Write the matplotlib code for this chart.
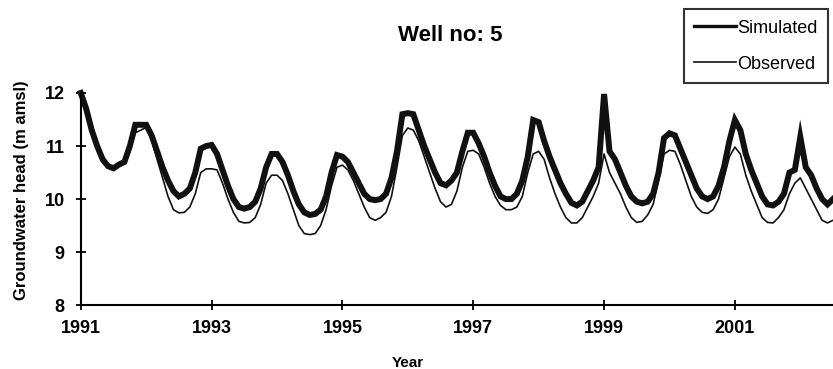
import numpy as np
import matplotlib.pyplot as plt

plt.rcParams['font.family'] = ['Liberation Sans', 'DejaVu Sans']
plt.rcParams['font.weight'] = 'bold'

# monthly values, Jan 1991 .. Jul 2002
simulated = [
    12.0, 11.7, 11.3, 11.0, 10.75, 10.62, 10.58, 10.65, 10.7, 11.0, 11.4, 11.4,
    11.4, 11.2, 10.9, 10.6, 10.35, 10.15, 10.05, 10.1, 10.2, 10.5, 10.95, 11.0,
    11.02, 10.85, 10.55, 10.25, 10.0, 9.85, 9.82, 9.85, 9.95, 10.2, 10.6, 10.85,
    10.85, 10.7, 10.45, 10.15, 9.9, 9.75, 9.7, 9.72, 9.8, 10.05, 10.5, 10.83,
    10.8, 10.7, 10.5, 10.3, 10.1, 10.0, 9.98, 10.0, 10.1, 10.4, 10.9, 11.6,
    11.62, 11.6, 11.3, 11.0, 10.75, 10.5, 10.3, 10.26, 10.35, 10.5, 10.9, 11.25,
    11.25, 11.05, 10.8, 10.5, 10.25, 10.05, 10.0, 10.0, 10.1, 10.35, 10.8, 11.49,
    11.45, 11.1, 10.8, 10.55, 10.3, 10.1, 9.93, 9.88, 9.95, 10.15, 10.35, 10.6,
    11.98, 10.9, 10.75, 10.5, 10.25, 10.05, 9.95, 9.92, 9.95, 10.1, 10.5, 11.15,
    11.24, 11.2, 10.95, 10.7, 10.45, 10.2, 10.05, 10.0, 10.05, 10.25, 10.6, 11.1,
    11.49, 11.3, 10.85, 10.55, 10.3, 10.05, 9.9, 9.88, 9.95, 10.1, 10.5, 10.55,
    11.17, 10.6, 10.45, 10.2, 10.0, 9.9, 10.0,
]
observed = [
    12.0, 11.65, 11.25, 10.95, 10.7, 10.6, 10.58, 10.62, 10.7, 10.95, 11.25, 11.3,
    11.35, 11.1, 10.75, 10.4, 10.05, 9.8, 9.74, 9.75, 9.85, 10.1, 10.5, 10.57,
    10.57, 10.55, 10.3, 10.0, 9.75, 9.58, 9.55, 9.56, 9.65, 9.9, 10.3, 10.45,
    10.45, 10.35, 10.1, 9.8, 9.5, 9.35, 9.33, 9.35, 9.5, 9.8, 10.25, 10.6,
    10.64, 10.55, 10.35, 10.1, 9.85, 9.65, 9.6, 9.65, 9.75, 10.05, 10.6, 11.2,
    11.34, 11.3, 11.1, 10.8, 10.5, 10.2, 9.95, 9.85, 9.9, 10.15, 10.6, 10.9,
    10.92, 10.85, 10.6, 10.3, 10.05, 9.88, 9.8, 9.8, 9.85, 10.05, 10.5, 10.85,
    10.9, 10.75, 10.4, 10.1, 9.85, 9.65, 9.55, 9.55, 9.65, 9.85, 10.05, 10.3,
    10.85, 10.5, 10.3, 10.1, 9.85, 9.65, 9.56, 9.58, 9.7, 9.9, 10.35, 10.85,
    10.92, 10.9, 10.65, 10.35, 10.05, 9.85, 9.75, 9.73, 9.8, 10.0, 10.4, 10.8,
    10.98, 10.85, 10.45, 10.15, 9.9, 9.65, 9.56, 9.55, 9.65, 9.8, 10.1, 10.3,
    10.4, 10.2, 10.0, 9.8, 9.6, 9.55, 9.6,
]
year_ticks = [1991, 1993, 1995, 1997, 1999, 2001]

t = 1991 + np.arange(len(simulated)) / 12.0

fig = plt.figure(figsize=(8.33, 3.69), dpi=100)
ax = fig.add_axes([0.097, 0.173, 0.903, 0.575])

ax.plot(t, simulated, color='#111111', lw=4.3, label='Simulated',
        solid_joinstyle='miter', clip_on=False)
ax.plot(t, observed, color='#111111', lw=1.2, label='Observed', clip_on=False)

ax.set_xlim(1991, 2002.5)
ax.set_ylim(8, 12)
ax.set_xticks(year_ticks)
ax.set_yticks([8, 9, 10, 11, 12])
for s in ['top', 'right']:
    ax.spines[s].set_visible(False)
for s in ['left', 'bottom']:
    ax.spines[s].set_linewidth(1.5)
ax.tick_params(direction='inout', length=7, width=1.3, labelsize=13)
ax.tick_params(axis='y', pad=8)
ax.tick_params(axis='x', pad=7)
for lab in ax.get_xticklabels() + ax.get_yticklabels():
    lab.set_fontweight('bold')

fig.text(0.026, 0.485, 'Groundwater head (m amsl)', rotation=90, ha='center',
         va='center', fontsize=12, fontweight='bold')
fig.text(0.489, 0.016, 'Year', ha='center', va='center', fontsize=11, fontweight='bold')
fig.text(0.54, 0.905, 'Well no: 5', ha='center', va='center',
         fontsize=16, fontweight='bold')

leg = fig.legend(loc='upper right', bbox_to_anchor=(0.994, 0.976),
                 fancybox=False, edgecolor='black', handlelength=2.3,
                 handletextpad=0.05, borderpad=0.6, labelspacing=1.05,
                 borderaxespad=0, prop={'size': 13, 'weight': 'normal'})
leg.get_frame().set_linewidth(1.5)
leg.get_lines()[0].set_linewidth(2.4)
leg.get_lines()[1].set_linewidth(1.2)

fig.savefig('out.png', dpi=100)
